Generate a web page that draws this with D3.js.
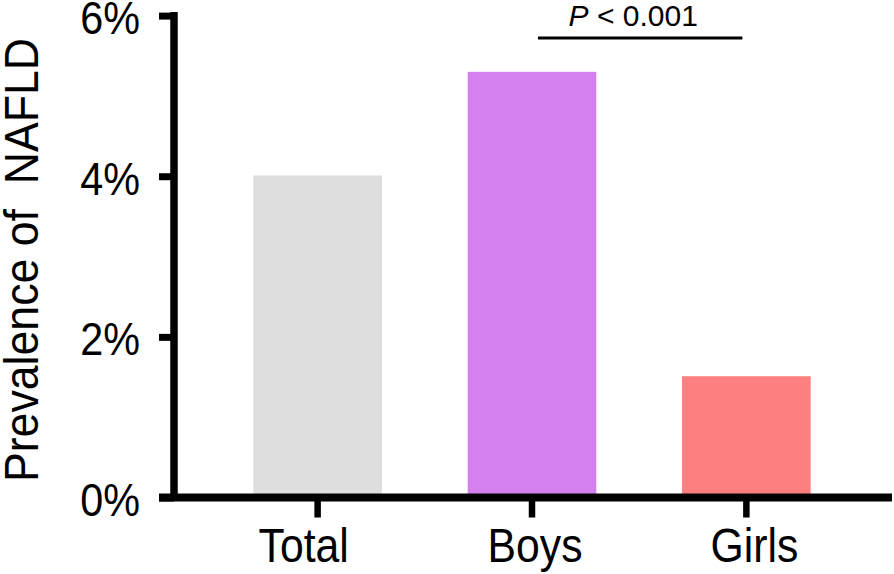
<!DOCTYPE html>
<html>
<head>
<meta charset="utf-8">
<script src="https://cdn.jsdelivr.net/npm/d3@7"></script>
<style>
  html, body { margin: 0; padding: 0; background: #ffffff; }
  svg { display: block; font-family: "Liberation Sans", Arial, Helvetica, sans-serif; }
</style>
</head>
<body>
<svg id="chart" width="894" height="574"></svg>
<script>
// ---- data ----
const categories = ["Total", "Boys", "Girls"];
const prevalence = [4.01, 5.30, 1.51];          // percent
const barColors = ["#dedede", "#d580ef", "#fe7f7f"];
const yTicks = [0, 2, 4, 6];
const yTickLabels = ["0%", "2%", "4%", "6%"];
const yTitle = "Prevalence of  NAFLD";
const compare = ["Boys", "Girls"];
const compareLabel = "0.001";
const compareLevel = 5.72;

// ---- layout ----
const svg = d3.select("#chart");
const axisX = 174, axisY = 497.5;
const xLabelNudge = [-14, 3, 8];   // label offsets as seen in the reference

const y = d3.scaleLinear().domain([0, 6]).range([axisY, 15.6]);
const x = d3.scaleBand().domain(categories).range([174, 890])
  .paddingInner(0.4).paddingOuter(0.37);

// narrow the glyphs a little (reference font is a condensed Helvetica look)
function condense(sel, ratio) {
  sel.each(function () {
    const len = this.getComputedTextLength();
    d3.select(this).attr("textLength", len * ratio).attr("lengthAdjust", "spacingAndGlyphs");
  });
}

// bars
svg.append("g").selectAll("rect")
  .data(categories)
  .join("rect")
  .attr("x", d => x(d))
  .attr("width", x.bandwidth())
  .attr("y", (d, i) => y(prevalence[i]))
  .attr("height", (d, i) => axisY - y(prevalence[i]))
  .attr("fill", (d, i) => barColors[i]);

// y axis
const yAxis = svg.append("g")
  .attr("transform", `translate(${axisX},0)`)
  .call(d3.axisLeft(y).tickValues(yTicks)
    .tickFormat((d, i) => yTickLabels[i])
    .tickSize(15).tickSizeOuter(0).tickPadding(19));
yAxis.select(".domain").remove();
yAxis.selectAll(".tick line").attr("stroke", "#000").attr("stroke-width", 7);
yAxis.selectAll(".tick text").attr("font-size", 47).attr("fill", "#000")
  .attr("dy", "0.38em")
  .call(condense, 0.88);
yAxis.append("line")
  .attr("x1", 0).attr("x2", 0)
  .attr("y1", y(6) - 3.5).attr("y2", axisY)
  .attr("stroke", "#000").attr("stroke-width", 7.5);

// x axis
const xAxis = svg.append("g")
  .attr("transform", `translate(0,${axisY})`)
  .call(d3.axisBottom(x).tickSize(20).tickSizeOuter(0).tickPadding(10.5));
xAxis.select(".domain").remove();
xAxis.selectAll(".tick line").attr("stroke", "#000").attr("stroke-width", 6.5);
xAxis.selectAll(".tick text").attr("font-size", 48).attr("fill", "#000")
  .attr("dx", (d, i) => xLabelNudge[i])
  .call(condense, 0.89);
xAxis.append("line")
  .attr("x1", 159).attr("x2", 892)
  .attr("y1", 0).attr("y2", 0)
  .attr("stroke", "#000").attr("stroke-width", 8);

// y title
svg.append("text")
  .attr("transform", `translate(38,${(483 + 37) / 2}) rotate(-90)`)
  .attr("text-anchor", "middle")
  .attr("font-size", 48)
  .attr("fill", "#000")
  .style("white-space", "pre")
  .text(yTitle)
  .call(condense, 0.93);

// significance annotation
const x1 = x(compare[0]) + x.bandwidth() / 2 + 6;
const x2 = x(compare[1]) + x.bandwidth() / 2 - 4;
svg.append("line")
  .attr("x1", x1).attr("x2", x2)
  .attr("y1", y(compareLevel)).attr("y2", y(compareLevel))
  .attr("stroke", "#000").attr("stroke-width", 3);
const t = svg.append("text")
  .attr("x", (x1 + x2) / 2 - 7)
  .attr("y", y(compareLevel) - 12)
  .attr("text-anchor", "middle")
  .attr("font-size", 30)
  .attr("fill", "#000")
  .style("white-space", "pre");
t.append("tspan").attr("font-style", "italic").text("P");
t.append("tspan").text(" < " + compareLabel);
</script>
</body>
</html>
